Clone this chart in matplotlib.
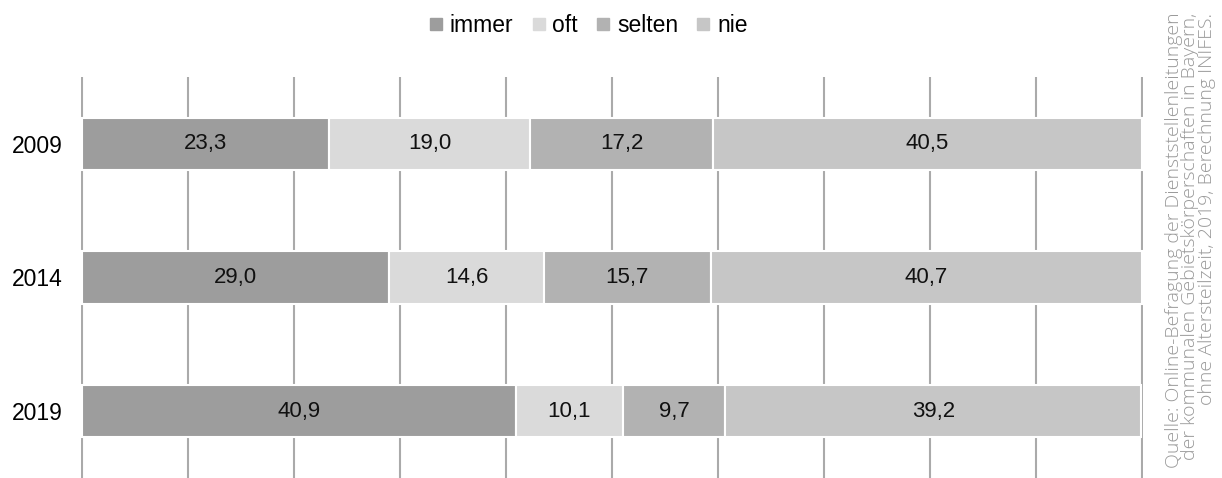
import matplotlib.pyplot as plt
from matplotlib.lines import Line2D

plt.rcParams['font.family'] = ['Liberation Sans', 'DejaVu Sans']

# Daten
jahre = ['2009', '2014', '2019']
kategorien = ['immer', 'oft', 'selten', 'nie']
immer = [23.3, 29.0, 40.9]
oft = [19.0, 14.6, 10.1]
selten = [17.2, 15.7, 9.7]
nie = [40.5, 40.7, 39.2]
farben = ['#9d9d9d', '#dadada', '#b2b2b2', '#c6c6c6']
quelle = ('Quelle: Online-Befragung der Dienststellenleitungen\n'
          'der kommunalen Gebietskörperschaften in Bayern,\n'
          'ohne Altersteilzeit, 2019, Berechnung INIFES.')

fig = plt.figure(figsize=(12.22, 4.78), dpi=100)
ax = fig.add_axes([0.0663, 0.0, 0.8691, 0.839])

y = list(range(len(jahre)))
links = [0.0] * len(jahre)
for werte, farbe in zip([immer, oft, selten, nie], farben):
    bars = ax.barh(y, werte, left=links, height=0.39, color=farbe,
                   edgecolor='white', linewidth=1.5, zorder=3)
    for b, v in zip(bars, werte):
        ax.text(b.get_x() + b.get_width() / 2, b.get_y() + b.get_height() / 2,
                f'{v:.1f}'.replace('.', ','), ha='center', va='center',
                fontsize=16, color='#111111', zorder=4)
    links = [l + v for l, v in zip(links, werte)]

# vertikale Gitterlinien
for x in range(0, 101, 10):
    ax.axvline(x, color='#aaaaaa', linewidth=1.5, zorder=1)

ax.set_xlim(-0.1, 100.1)
ax.set_ylim(2.5, -0.5)
ax.set_yticks(y)
ax.set_yticklabels(jahre, fontsize=16.5)
ax.tick_params(axis='y', length=0, pad=13)
ax.set_xticks([])
for s in ax.spines.values():
    s.set_visible(False)

# Legende
handles = [Line2D([], [], marker='s', linestyle='none', markersize=8,
                  color=f) for f in farben]
fig.legend(handles, kategorien, loc='center', bbox_to_anchor=(0.482, 0.946),
           ncol=4, frameon=False, fontsize=16.5, handlelength=0.5,
           handletextpad=0.35, columnspacing=0.85)

# Quelle
fig.text(0.974, 0.497, quelle, rotation=90, ha='center', va='center',
         fontsize=14, color='#999999', family=['Open Sans', 'DejaVu Sans'],
         fontweight='light', linespacing=0.9, multialignment='right')

fig.savefig('out.png', dpi=100)
